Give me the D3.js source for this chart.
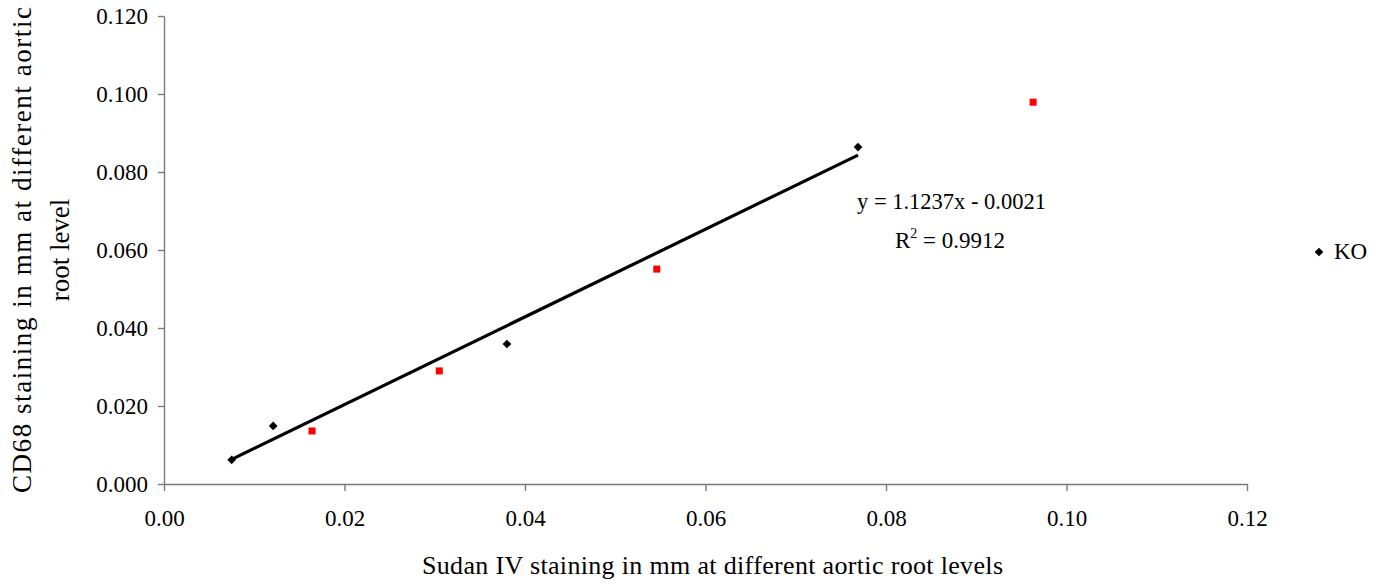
<!DOCTYPE html>
<html>
<head>
<meta charset="utf-8">
<script src="https://cdn.jsdelivr.net/npm/d3@7"></script>
<style>
  html, body { margin: 0; padding: 0; background: #fff; }
  svg { display: block; font-family: "Liberation Serif", "Times New Roman", serif; }
</style>
</head>
<body>
<svg id="chart" width="1381" height="586"></svg>
<script>
// ---- data ----
const koX = [0.0075, 0.0121, 0.0380, 0.0769];
const koY = [0.0062, 0.0149, 0.0359, 0.0864];
const redX = [0.0164, 0.0305, 0.0546, 0.0963];
const redY = [0.0136, 0.0290, 0.0551, 0.0979];
const trendSlope = 1.1237;
const trendIntercept = -0.0021;
const xTicks = [0, 0.02, 0.04, 0.06, 0.08, 0.10, 0.12];
const yTicks = [0, 0.02, 0.04, 0.06, 0.08, 0.10, 0.12];
const legendLabel = "KO";
const xTitle = "Sudan IV staining in mm at different aortic root levels";
const yTitleLines = ["CD68 staining in mm at different aortic", "root level"];
const eqText = "y = 1.1237x - 0.0021";
const r2Value = "0.9912";

// ---- layout ----
const svg = d3.select("#chart");
const x = d3.scaleLinear().domain([0, 0.12]).range([164, 1247]);
const y = d3.scaleLinear().domain([0, 0.12]).range([484, 16]);
const axisColor = "#7a7a7a";
const tickFont = 23;

// x axis
const gx = svg.append("g").attr("transform", `translate(0,${y(0)})`)
  .call(d3.axisBottom(x).tickValues(xTicks).tickFormat(d3.format(".2f")).tickSize(7).tickSizeOuter(0).tickPadding(19));
// y axis
const gy = svg.append("g").attr("transform", `translate(${x(0)},0)`)
  .call(d3.axisLeft(y).tickValues(yTicks).tickFormat(d3.format(".3f")).tickSize(6).tickSizeOuter(0).tickPadding(10));

[gx, gy].forEach(g => {
  g.attr("font-family", null).attr("font-size", null);
  g.select(".domain").attr("stroke", axisColor).attr("stroke-width", 1.4);
  g.selectAll(".tick line").attr("stroke", axisColor).attr("stroke-width", 1.4);
  g.selectAll(".tick text").attr("fill", "#000").attr("font-size", tickFont);
});

// trendline
const kx0 = d3.min(koX), kx1 = d3.max(koX);
svg.append("line")
  .attr("x1", x(kx0)).attr("y1", y(trendSlope * kx0 + trendIntercept))
  .attr("x2", x(kx1)).attr("y2", y(trendSlope * kx1 + trendIntercept))
  .attr("stroke", "#000").attr("stroke-width", 3.2);

// KO diamonds
const diamond = d3.symbol().type(d3.symbolSquare).size(38);
svg.append("g").selectAll("path").data(koX.map((v, i) => [v, koY[i]])).join("path")
  .attr("d", diamond)
  .attr("transform", d => `translate(${x(d[0])},${y(d[1])}) rotate(45)`)
  .attr("fill", "#000");

// red squares
svg.append("g").selectAll("rect").data(redX.map((v, i) => [v, redY[i]])).join("rect")
  .attr("x", d => x(d[0]) - 3.5).attr("y", d => y(d[1]) - 3.5)
  .attr("width", 7).attr("height", 7)
  .attr("fill", "#ff0000");

// equation
svg.append("text").attr("x", 857).attr("y", 209).attr("font-size", 22.5).text(eqText);
const r2 = svg.append("text").attr("x", 895).attr("y", 248).attr("font-size", 23);
r2.append("tspan").text("R");
r2.append("tspan").attr("font-size", 14).attr("dy", -10).text("2");
r2.append("tspan").attr("dy", 10).text(" = " + r2Value);

// legend
svg.append("path").attr("d", diamond).attr("transform", "translate(1319,252) rotate(45)").attr("fill", "#000");
svg.append("text").attr("x", 1334).attr("y", 259).attr("font-size", 23).text(legendLabel);

// axis titles
svg.append("text").attr("x", 422).attr("y", 574)
  .attr("font-size", 26).attr("textLength", 581).attr("lengthAdjust", "spacing").text(xTitle);

const yStart = 493, yLen = 486;
svg.append("text").attr("transform", `translate(31,${yStart}) rotate(-90)`)
  .attr("font-size", 27).attr("textLength", yLen).attr("lengthAdjust", "spacing").text(yTitleLines[0]);
svg.append("text").attr("transform", `translate(69,${yStart - yLen / 2}) rotate(-90)`)
  .attr("text-anchor", "middle").attr("font-size", 27).text(yTitleLines[1]);
</script>
</body>
</html>
